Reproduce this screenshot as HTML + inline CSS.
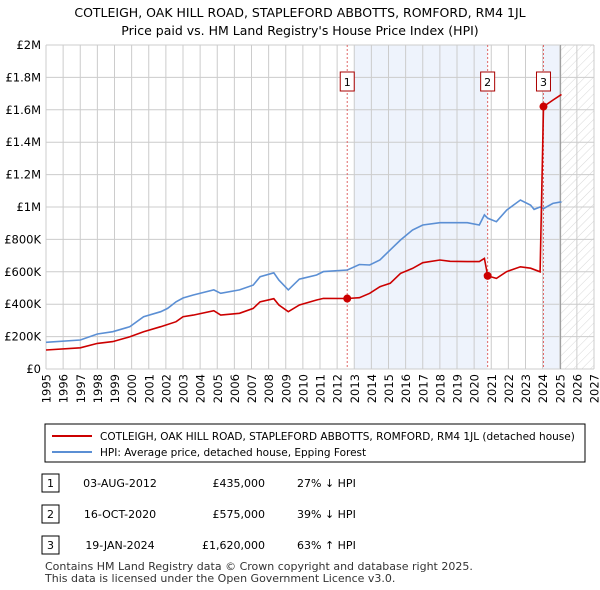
<!DOCTYPE html>
<html><head><meta charset="utf-8"><style>
body{margin:0;background:#fff;font-family:"Liberation Sans","DejaVu Sans",sans-serif;}
svg{display:block}
text{font-family:"DejaVu Sans","Liberation Sans",sans-serif;}
</style></head><body>
<svg id="c" width="600" height="590" viewBox="0 0 600 590">
<text x="300" y="17" text-anchor="middle" font-size="12.5" fill="#000">COTLEIGH, OAK HILL ROAD, STAPLEFORD ABBOTTS, ROMFORD, RM4 1JL</text>
<text x="300" y="35" text-anchor="middle" font-size="12.5" fill="#000">Price paid vs. HM Land Registry's House Price Index (HPI)</text>
<defs><pattern id="h" width="6" height="6" patternUnits="userSpaceOnUse" patternTransform="rotate(45)"><line x1="0" y1="0" x2="0" y2="6" stroke="#d8d8d8" stroke-width="1"/></pattern></defs>
<g id="plot"></g>
<g>
<rect x="45" y="424" width="540" height="38" fill="#fff" stroke="#000" stroke-width="1"/>
<line x1="52" y1="436" x2="92" y2="436" stroke="#cc0000" stroke-width="2"/>
<text x="100" y="440" font-size="10.5">COTLEIGH, OAK HILL ROAD, STAPLEFORD ABBOTTS, ROMFORD, RM4 1JL (detached house)</text>
<line x1="52" y1="452" x2="92" y2="452" stroke="#5b8fd4" stroke-width="2"/>
<text x="100" y="456" font-size="10.5">HPI: Average price, detached house, Epping Forest</text>
</g>
<g id="table" font-size="11"></g>
<text x="45" y="570" font-size="11" fill="#333">Contains HM Land Registry data © Crown copyright and database right 2025.</text>
<text x="45" y="582" font-size="11" fill="#333">This data is licensed under the Open Government Licence v3.0.</text>
</svg>
<script>
const hpiYears=[1995.0,1997.0,1998.0,1998.9,1999.9,2000.7,2001.7,2002.1,2002.6,2003.0,2003.6,2004.8,2005.2,2006.3,2007.1,2007.5,2008.3,2008.6,2009.15,2009.8,2010.0,2010.8,2011.2,2012.6,2013.3,2013.9,2014.5,2015.1,2015.7,2016.4,2017.0,2018.0,2018.6,2019.6,2020.3,2020.6,2020.8,2021.3,2021.9,2022.7,2023.3,2023.5,2023.85,2024.05,2024.6,2025.1];
const hpiValues=[165,179,216,230,261,323,354,374,415,438,457,488,467,488,518,570,594,549,488,555,560,580,601,611,645,642,673,735,796,858,889,903,903,903,889,951,930,909,981,1043,1012,985,1000,990,1022,1032];
const ppYears=[1995.0,1997.0,1998.0,1998.9,1999.9,2000.7,2001.7,2002.6,2003.0,2003.6,2004.8,2005.2,2006.3,2007.1,2007.5,2008.3,2008.6,2009.15,2009.8,2010.8,2011.2,2012.59,2013.3,2013.9,2014.5,2015.1,2015.7,2016.4,2017.0,2018.0,2018.6,2019.6,2020.3,2020.6,2020.79,2021.3,2021.9,2022.7,2023.3,2023.85,2024.05,2024.6,2025.1];
const ppValues=[117,131,158,169,199,230,261,292,323,333,360,333,344,374,415,434,395,354,395,426,436,435,440,467,508,529,590,621,656,673,665,663,663,683,575,559,601,631,622,600,1620,1660,1695];
const yTicks=[0,200,400,600,800,1000,1200,1400,1600,1800,2000];
const yTickLabels=["£0","£200K","£400K","£600K","£800K","£1M","£1.2M","£1.4M","£1.6M","£1.8M","£2M"];
const xTicks=[1995,1996,1997,1998,1999,2000,2001,2002,2003,2004,2005,2006,2007,2008,2009,2010,2011,2012,2013,2014,2015,2016,2017,2018,2019,2020,2021,2022,2023,2024,2025,2026,2027];
const saleYears=[2012.59,2020.79,2024.05];
const saleValues=[435,575,1620];
const saleLabels=["1","2","3"];
const saleDates=["03-AUG-2012","16-OCT-2020","19-JAN-2024"];
const salePrices=["£435,000","£575,000","£1,620,000"];
const saleHpi=["27% ↓ HPI","39% ↓ HPI","63% ↑ HPI"];

const X0=46,X1=594,Y0=369,Y1=45;
const xs=y=>X0+(y-1995)/(2027-1995)*(X1-X0);
const ys=v=>Y0-(v/2000)*(Y0-Y1);
const NS="http://www.w3.org/2000/svg";
const plot=document.getElementById('plot');
function mk(tag,attrs,parent){const e=document.createElementNS(NS,tag);for(const k in attrs)e.setAttribute(k,attrs[k]);(parent||plot).appendChild(e);return e;}

let e;
e=mk('rect',{x:xs(2013),y:Y1,width:xs(2020.79)-xs(2013),height:Y0-Y1,fill:'#eef3fc'});


e=mk('rect',{x:xs(2024.05),y:Y1,width:xs(2025.05)-xs(2024.05),height:Y0-Y1,fill:'#eef3fc'});


e=mk('rect',{x:xs(2025.05),y:Y1,width:X1-xs(2025.05),height:Y0-Y1,fill:'url(#h)'});



for(let i=0;i<yTicks.length;i++){
 const y=ys(yTicks[i]);
 e=mk('line',{x1:X0,x2:X1,y1:y,y2:y,stroke:'#cccccc','stroke-width':1});
 
 
 e=mk('text',{x:41,y:y+4,'text-anchor':'end','font-size':11.5});
 e.textContent=yTickLabels[i];
 
 
}
for(const t of xTicks){
 const x=xs(t);
 e=mk('line',{x1:x,x2:x,y1:Y1,y2:Y0,stroke:'#cccccc','stroke-width':1});
 
 
 e=mk('text',{x:0,y:0,'text-anchor':'end','font-size':11.5,transform:'translate('+(x+4.5)+',374) rotate(-90)'});
 e.textContent=t;
 
 
}
e=mk('line',{x1:xs(2025.05),x2:xs(2025.05),y1:Y1,y2:Y0,stroke:'#999','stroke-width':1});



for(let i=0;i<saleYears.length;i++){
 const x=xs(saleYears[i]);
 e=mk('line',{x1:x,x2:x,y1:Y1,y2:Y0,stroke:'#e06666','stroke-width':1,'stroke-dasharray':'2,2'});
 
 
 e=mk('rect',{x:x-7,y:72,width:14,height:19,fill:'#fff',stroke:'#aa0000','stroke-width':1});
 
 
 e=mk('text',{x:x,y:86,'text-anchor':'middle','font-size':11});
 e.textContent=saleLabels[i];
 
 
}

function path(xa,va){return xa.map((y,i)=>(i?'L':'M')+xs(y).toFixed(1)+','+ys(va[i]).toFixed(1)).join(' ');}
e=mk('path',{d:path(hpiYears,hpiValues),fill:'none',stroke:'#5b8fd4','stroke-width':1.6});


e=mk('path',{d:path(ppYears,ppValues),fill:'none',stroke:'#cc0000','stroke-width':1.6});


for(let i=0;i<saleYears.length;i++){
 e=mk('circle',{cx:xs(saleYears[i]),cy:ys(saleValues[i]),r:4,fill:'#cc0000'});
 
 
}

const tb=document.getElementById('table');
for(let i=0;i<saleDates.length;i++){
 const y=483+i*31;
 e=mk('rect',{x:42,y:y-9,width:17,height:18,fill:'#fff',stroke:'#000','stroke-width':1},tb);
 
 
 e=mk('text',{x:50.5,y:y+4,'text-anchor':'middle'},tb);e.textContent=saleLabels[i];
 
 
 e=mk('text',{x:120,y:y+4,'text-anchor':'middle'},tb);e.textContent=saleDates[i];
 
 
 e=mk('text',{x:265,y:y+4,'text-anchor':'end'},tb);e.textContent=salePrices[i];
 
 
 e=mk('text',{x:297,y:y+4},tb);e.textContent=saleHpi[i];
 
 
}
</script>
</body></html>
